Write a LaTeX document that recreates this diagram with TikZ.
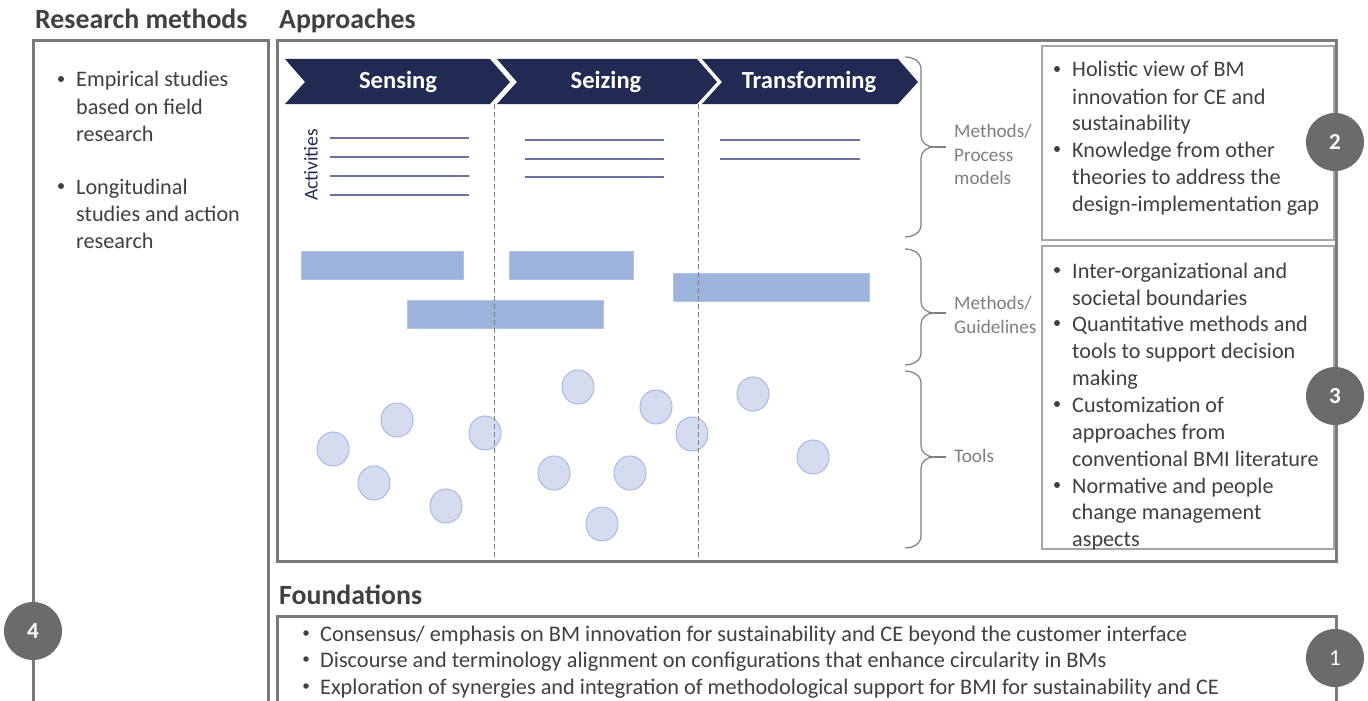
\documentclass[tikz,border=0pt]{standalone}
\usepackage{fontspec}
\setmainfont{Carlito}
\usetikzlibrary{shapes.geometric}
\definecolor{navy}{HTML}{212A52}
\definecolor{boxgray}{HTML}{7A7A7A}
\definecolor{thingray}{HTML}{A6A6A6}
\definecolor{txtgray}{HTML}{404040}
\definecolor{lblgray}{HTML}{7F7F7F}
\definecolor{rectblue}{HTML}{9CB3DE}
\definecolor{bubfill}{HTML}{D6DCF0}
\definecolor{bubdraw}{HTML}{AAB9E4}
\definecolor{numgray}{HTML}{6B6B6B}
\definecolor{actline}{HTML}{6C73A3}
\tikzset{
  hdr/.style={anchor=base west, inner sep=0, font=\fontsize{27.8}{32}\selectfont\bfseries, text=txtgray},
  body/.style={anchor=base west, inner sep=0, font=\fontsize{22.2}{26}\selectfont, text=txtgray},
  fbody/.style={anchor=base west, inner sep=0, font=\fontsize{22.3}{26}\selectfont, text=txtgray},
  lbl/.style={anchor=base west, inner sep=0, font=\fontsize{19.2}{22}\selectfont, text=lblgray},
  bul/.style={circle, fill=txtgray, inner sep=0, minimum size=6pt},
  bigbox/.style={draw=boxgray, line width=3pt},
  thinbox/.style={draw=thingray, line width=1.5pt},
  chev/.style={fill=navy},
  chevtxt/.style={text=white, font=\fontsize{24.6}{28}\selectfont\bfseries, inner sep=0},
  bub/.style={ellipse, fill=bubfill, draw=bubdraw, line width=1pt, minimum width=32pt, minimum height=34pt, inner sep=0},
  rbar/.style={fill=rectblue, draw=rectblue!80!white, line width=0.6pt},
  num/.style={circle, fill=numgray, minimum size=58pt, inner sep=0, text=white, font=\fontsize{23}{26}\selectfont\bfseries},
  bracepath/.style={draw=lblgray, line width=1.2pt},
  sep/.style={draw=lblgray, line width=0.8pt, dash pattern=on 5pt off 3pt},
  act/.style={draw=actline, line width=1.2pt}
}
\begin{document}
\begin{tikzpicture}[x=1pt,y=-1pt]
\useasboundingbox (0,0) rectangle (1368,701);
\clip (0,0) rectangle (1368,701);
\fill[white] (0,0) rectangle (1368,701);

% headers
\node[hdr] (hrm) at (35,29) {Research methods};
\node[hdr] (hap) at (279,29) {Approaches};
\node[hdr] (hfo) at (279,604) {Foundations};

% big boxes
\draw[bigbox] (33,41) rectangle (268,720);
\draw[bigbox] (277,41) rectangle (1336,561);
\draw[bigbox] (277,616) rectangle (1336,720);

% research methods text
\node[bul] (b1) at (61,79) {};
\node[body] (r1) at (76,87) {Empirical studies};
\node[body] (r2) at (76,114) {based on field};
\node[body] (r3) at (76,141) {research};
\node[bul] (b2) at (61,186) {};
\node[body] (r4) at (76,194) {Longitudinal};
\node[body] (r5) at (76,221) {studies and action};
\node[body] (r6) at (76,248) {research};

% chevrons
\fill[chev] (285,59) -- (490,59) -- (510,82) -- (490,104) -- (285,104) -- (305,82) -- cycle;
\fill[chev] (497,59) -- (697,59) -- (717,82) -- (697,104) -- (497,104) -- (517,82) -- cycle;
\fill[chev] (702,59) -- (898,59) -- (918,82) -- (898,104) -- (702,104) -- (722,82) -- cycle;
\node[chevtxt] (sen) at (398,82) {Sensing};
\node[chevtxt] (sei) at (606,82) {Seizing};
\node[chevtxt] (tra) at (809,82) {Transforming};

% activities
\node[rotate=90, text=navy, font=\fontsize{19.5}{22}\selectfont, inner sep=0] (acts) at (311,165) {Activities};
\foreach \y in {138,157,176,195} \draw[act] (330,\y) -- (469,\y);
\foreach \y in {140,159,177} \draw[act] (525,\y) -- (664,\y);
\foreach \y in {140,159} \draw[act] (720,\y) -- (860,\y);

% bars
\fill[rbar] (301,251) rectangle (463,279);
\fill[rbar] (509,251) rectangle (633,279);
\fill[rbar] (407,300) rectangle (603,328);
\fill[rbar] (673,273) rectangle (869,301);

% bubbles
\node[bub] (c1) at (333,449) {};
\node[bub] (c2) at (397,420) {};
\node[bub] (c3) at (374,483) {};
\node[bub] (c4) at (446,506) {};
\node[bub] (c5) at (485,433) {};
\node[bub] (c6) at (578,387) {};
\node[bub] (c7) at (656,407) {};
\node[bub] (c8) at (554,473) {};
\node[bub] (c9) at (630,473) {};
\node[bub] (c10) at (602,524) {};
\node[bub] (c11) at (692,434) {};
\node[bub] (c12) at (753,394) {};
\node[bub] (c13) at (813,457) {};

% separators
\draw[sep] (494,104) -- (494,561);
\draw[sep] (698,104) -- (698,561);

% braces
\draw[bracepath] (905,57) to[out=0,in=90] (921,69) -- (921,136) to[out=-90,in=180] (934,147) to[out=180,in=90] (921,158) -- (921,225) to[out=-90,in=0] (905,237);
\draw[bracepath] (934,147) -- (946,147);
\draw[bracepath] (905,249) to[out=0,in=90] (921,261) -- (921,302) to[out=-90,in=180] (934,313) to[out=180,in=90] (921,324) -- (921,353) to[out=-90,in=0] (905,365);
\draw[bracepath] (934,313) -- (946,313);
\draw[bracepath] (905,371) to[out=0,in=90] (921,383) -- (921,446) to[out=-90,in=180] (934,457) to[out=180,in=90] (921,468) -- (921,536) to[out=-90,in=0] (905,548);
\draw[bracepath] (934,457) -- (946,457);

\node[lbl] (l1) at (954,137) {Methods/};
\node[lbl] (l2) at (954,161) {Process};
\node[lbl] (l3) at (954,184) {models};
\node[lbl] (l4) at (954,309) {Methods/};
\node[lbl] (l5) at (954,333) {Guidelines};
\node[lbl] (l6) at (954,462) {Tools};

% right boxes
\draw[thinbox] (1042,46) rectangle (1334,240);
\draw[thinbox] (1042,246) rectangle (1334,549);

\node[bul] (ba1) at (1057,69) {};
\node[body] (a1) at (1072,77) {Holistic view of BM};
\node[body] (a2) at (1072,104) {innovation for CE and};
\node[body] (a3) at (1072,130) {sustainability};
\node[bul] (ba2) at (1057,149) {};
\node[body] (a4) at (1072,157) {Knowledge from other};
\node[body] (a5) at (1072,184) {theories to address the};
\node[body] (a6) at (1072,211) {design-implementation gap};

\node[bul] (bb1) at (1057,270) {};
\node[body] (g1) at (1072,278) {Inter-organizational and};
\node[body] (g2) at (1072,305) {societal boundaries};
\node[bul] (bb2) at (1057,323) {};
\node[body] (g3) at (1072,331) {Quantitative methods and};
\node[body] (g4) at (1072,358) {tools to support decision};
\node[body] (g5) at (1072,385) {making};
\node[bul] (bb3) at (1057,404) {};
\node[body] (g6) at (1072,412) {Customization of};
\node[body] (g7) at (1072,439) {approaches from};
\node[body] (g8) at (1072,466) {conventional BMI literature};
\node[bul] (bb4) at (1057,485) {};
\node[body] (g9) at (1072,493) {Normative and people};
\node[body] (g10) at (1072,519) {change management};
\node[body] (g11) at (1072,546) {aspects};

% foundations text
\node[bul, minimum size=5.5pt] (bf1) at (306,633) {};
\node[fbody] (f1) at (320,641) {Consensus/ emphasis on BM innovation for sustainability and CE beyond the customer interface};
\node[bul, minimum size=5.5pt] (bf2) at (306,659) {};
\node[fbody] (f2) at (320,667) {Discourse and terminology alignment on configurations that enhance circularity in BMs};
\node[bul, minimum size=5.5pt] (bf3) at (306,686) {};
\node[fbody] (f3) at (320,694) {Exploration of synergies and integration of methodological support for BMI for sustainability and CE};

% number circles
\node[num] (n2) at (1335,142) {2};
\node[num] (n3) at (1335,396) {3};
\node[num, font=\fontsize{23}{26}\selectfont] (n1) at (1335,658) {1};
\node[num] (n4) at (33,631) {4};
\end{tikzpicture}
\end{document}
